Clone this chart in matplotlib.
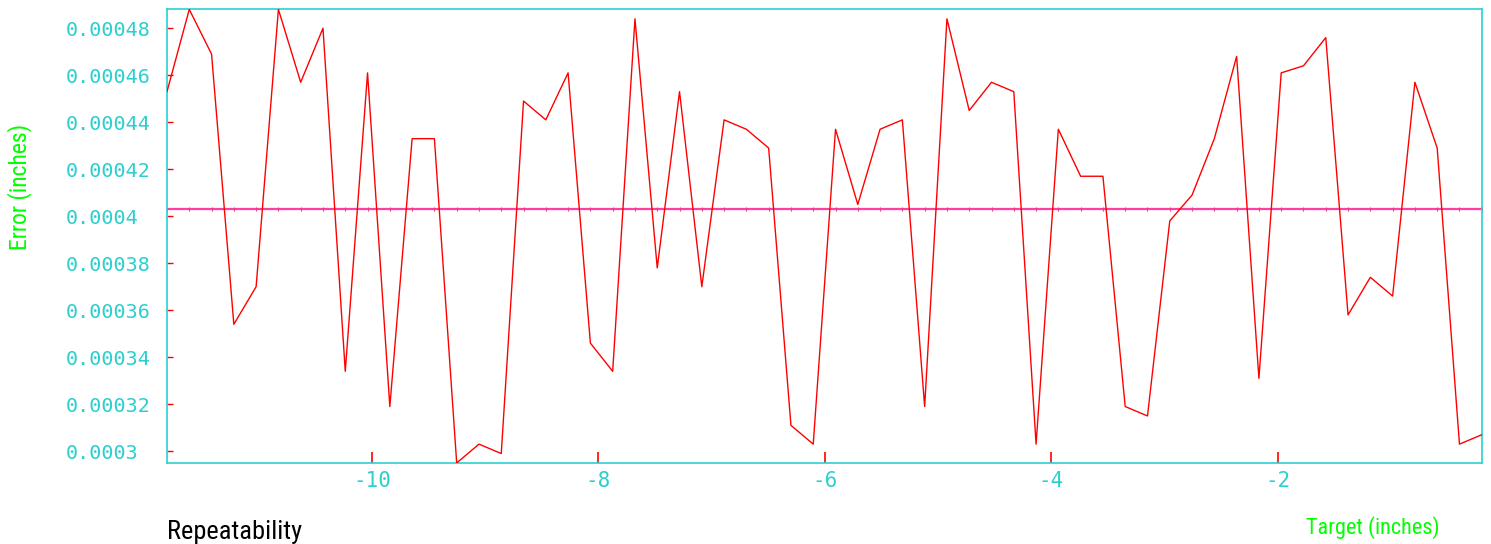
import numpy as np
import matplotlib
matplotlib.use("Agg")
import matplotlib.pyplot as plt
from matplotlib.ticker import FuncFormatter

plt.rcParams['axes.unicode_minus'] = False

# target positions: -300 mm .. -5 mm in 5 mm steps, shown in inches
target_mm = np.arange(-300, 0, 5)
target_in = target_mm / 25.4

# error readings (inches)
error_in = np.array([
    453, 488, 469, 354, 370, 488, 457, 480, 334, 461,
    319, 433, 433, 295, 303, 299, 449, 441, 461, 346,
    334, 484, 378, 453, 370, 441, 437, 429, 311, 303,
    437, 405, 437, 441, 319, 484, 445, 457, 453, 303,
    437, 417, 417, 319, 315, 398, 409, 433, 468, 331,
    461, 464, 476, 358, 374, 366, 457, 429, 303, 307,
]) * 1e-6

y_ticks = np.round(np.arange(0.0003, 0.00049, 0.00002), 6)
x_ticks = [-10, -8, -6, -4, -2]

label_font = ['Roboto Condensed', 'Roboto', 'DejaVu Sans']
cyan = '#2ccfcf'
green = '#00ff00'

fig = plt.figure(figsize=(14.91, 5.44), dpi=100)
ax = fig.add_axes([0.112, 0.149, 0.8818, 0.8337])

mean = error_in.mean()
ax.plot(target_in, error_in, color='#ff0000', lw=1.0, zorder=3)
ax.axhline(mean, color='#ff3f9f', lw=1.6, zorder=2)
ax.plot(target_in, np.full_like(target_in, mean), ls='none', marker='|',
        ms=3, mew=0.8, color='#e0407f', zorder=2)

ax.set_xlim(target_in.min(), target_in.max())
ax.set_ylim(error_in.min(), error_in.max())

ax.set_yticks(y_ticks)
ax.set_xticks(x_ticks)
ax.yaxis.set_major_formatter(FuncFormatter(lambda v, p: '%g' % v))
# y labels are left-justified at x = 65 px, like the original
ax.tick_params(axis='y', direction='in', length=4, width=1, color='red',
               labelcolor=cyan, labelsize=14.5, pad=73)
ax.tick_params(axis='x', direction='in', length=8, width=1.2, color='red',
               labelcolor=cyan, labelsize=15, pad=6)
for lab in ax.get_yticklabels():
    lab.set_family('DejaVu Sans Mono')
    lab.set_horizontalalignment('left')
for lab in ax.get_xticklabels():
    lab.set_family('DejaVu Sans Mono')

for s in ax.spines.values():
    s.set_color(cyan)
    s.set_linewidth(1.2)

fig.text(0.0134, 0.656, 'Error (inches)', color=green, rotation=90,
         fontsize=17, family=label_font, ha='center', va='center')
fig.text(0.921, 0.031, 'Target (inches)', color=green, fontsize=16,
         family=label_font, ha='center', va='center')
fig.text(0.112, 0.044, 'Repeatability', color='black', fontsize=19,
         family=label_font, ha='left', va='top')

fig.savefig('out.png', dpi=100)
